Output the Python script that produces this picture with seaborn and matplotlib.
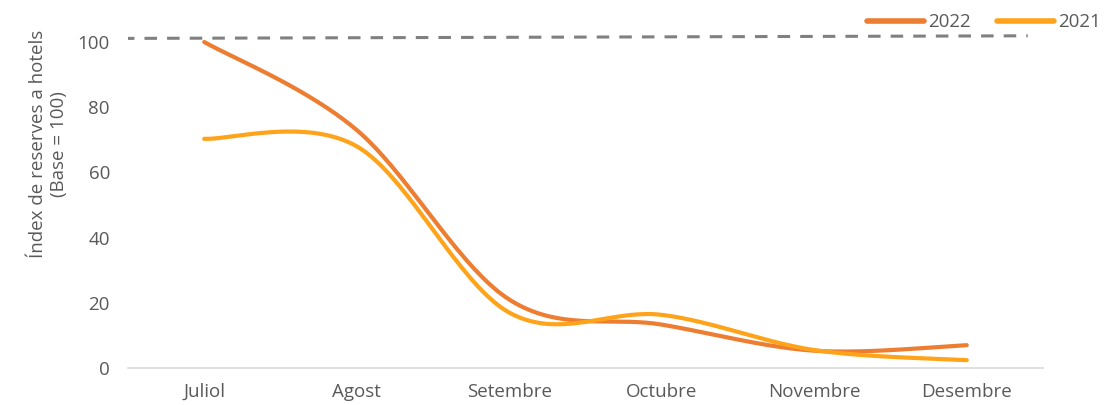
import numpy as np
import pandas as pd
import matplotlib
matplotlib.use("Agg")
import matplotlib.pyplot as plt
import seaborn as sns

# ── Data ─────────────────────────────────────────────────────────────────────
months = ["Juliol", "Agost", "Setembre", "Octubre", "Novembre", "Desembre"]
index_2022 = [100, 73, 21, 13.3, 5.3, 7]
index_2021 = [70.3, 68, 17, 16.3, 5.5, 2.4]
base_line_x = [-0.54, 5.40]
base_line_y = [101.1, 101.9]

colors = {"2022": "#ED7D31", "2021": "#FFA31A"}
text_color = "#595959"


def excel_smooth(xs, ys, n=40):
    # Catmull-Rom style bezier, like Excel's "smoothed line"
    xs = np.asarray(xs, float)
    ys = np.asarray(ys, float)
    px = np.concatenate([[xs[0]], xs, [xs[-1]]])
    py = np.concatenate([[ys[0]], ys, [ys[-1]]])
    out_x, out_y = [], []
    t = np.linspace(0, 1, n)
    for i in range(1, len(px) - 2):
        p0 = np.array([px[i], py[i]])
        p3 = np.array([px[i + 1], py[i + 1]])
        c1 = p0 + (np.array([px[i + 1], py[i + 1]]) - np.array([px[i - 1], py[i - 1]])) / 6
        c2 = p3 - (np.array([px[i + 2], py[i + 2]]) - np.array([px[i], py[i]])) / 6
        pts = ((1 - t) ** 3)[:, None] * p0 + (3 * (1 - t) ** 2 * t)[:, None] * c1 \
            + (3 * (1 - t) * t ** 2)[:, None] * c2 + (t ** 3)[:, None] * p3
        out_x.extend(pts[:, 0])
        out_y.extend(pts[:, 1])
    return np.array(out_x), np.array(out_y)


sns.set_theme(style="white")
plt.rcParams["font.family"] = ["Open Sans", "DejaVu Sans"]

fig, ax = plt.subplots(figsize=(11.07, 4.05), dpi=100)
fig.subplots_adjust(left=0.1156, right=0.9422, bottom=0.0914, top=0.9768)

pos = np.arange(len(months))

# reference line (base = 100)
ax.plot(base_line_x, base_line_y, color="#808080", linewidth=2.2,
        dashes=(4.1, 3.3), zorder=1)

for name, vals in [("2022", index_2022), ("2021", index_2021)]:
    sx, sy = excel_smooth(pos, vals)
    sns.lineplot(x=sx, y=sy, sort=False, ax=ax, color=colors[name],
                 linewidth=3.0, label=name, solid_capstyle="round", zorder=3)

ax.set_xlim(-0.5, len(months) - 0.5)
ax.set_ylim(0, 110)
ax.set_xticks(pos)
ax.set_xticklabels(months)
ax.set_yticks([0, 20, 40, 60, 80, 100])
ax.tick_params(axis="both", length=0, labelsize=13.5, labelcolor=text_color)
ax.tick_params(axis="x", pad=11)
ax.tick_params(axis="y", pad=13)

for side in ["top", "right", "left"]:
    ax.spines[side].set_visible(False)
ax.spines["bottom"].set_color("#D9D9D9")
ax.spines["bottom"].set_linewidth(1.2)

ax.set_ylabel("Índex de reserves a hotels\n(Base = 100)", fontsize=13.5,
              color=text_color, labelpad=8, linespacing=1.15)
ax.yaxis.set_label_coords(-0.066, 0.625)

leg = ax.legend(loc="upper right", bbox_to_anchor=(1.003, 0.99),
                bbox_transform=fig.transFigure, ncol=2, frameon=False,
                fontsize=13.5, handlelength=3.0, columnspacing=1.4,
                handletextpad=0.25, borderaxespad=0.1)
for t in leg.get_texts():
    t.set_color(text_color)
for h in leg.get_lines():
    h.set_linewidth(4)
    h.set_solid_capstyle("round")

plt.savefig("out.png", dpi=100)
